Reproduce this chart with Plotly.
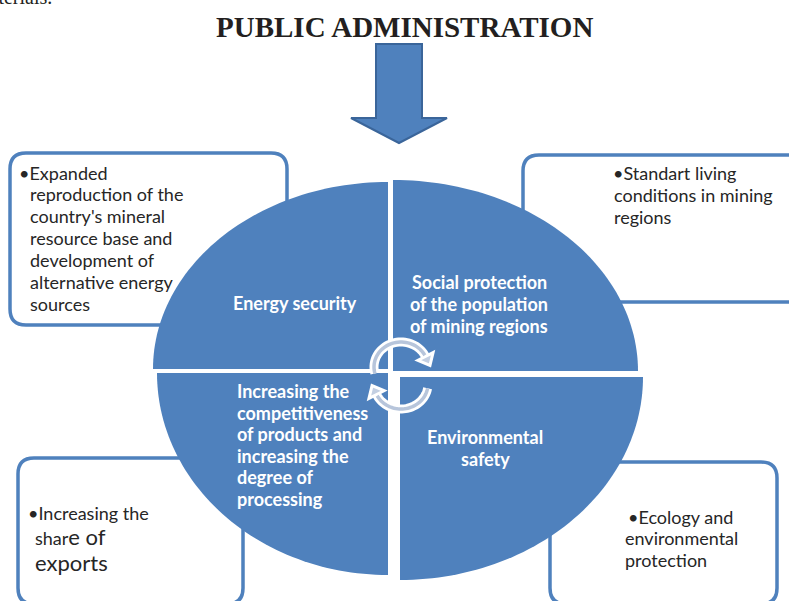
import numpy as np
import plotly.graph_objects as go

W, H = 789, 601
BLUE = "#4F81BD"
BLUE_DARK = "#3A659A"
TXT = "#262626"
BODY_FONT = "Lato"

# ---- content ----
title_text = "PUBLIC ADMINISTRATION"
fragment_text = "materials."

energy_label = ["Energy security"]
social_label = ["Social protection", "of the population", "of mining regions"]
compet_label = ["Increasing the", "competitiveness", "of products and",
                "increasing the", "degree of", "processing"]
env_label = ["Environmental", "safety"]

box_tl_lines = ["•Expanded", "reproduction of the", "country's mineral",
                "resource base and", "development of", "alternative energy", "sources"]
box_tr_lines = ["•Standart living", "conditions in mining", "regions"]
box_bl_lines = ["•Increasing the",
                "shar<span style='font-size:22px'>e of</span>",
                "<span style='font-size:22px'>exports</span>"]
box_br_lines = ["•Ecology and", "environmental", "protection"]

# ---- geometry helpers ----
def rrect(x0, y0, x1, y1, r):
    return (f"M{x0+r},{y0} L{x1-r},{y0} Q{x1},{y0} {x1},{y0+r} "
            f"L{x1},{y1-r} Q{x1},{y1} {x1-r},{y1} L{x0+r},{y1} "
            f"Q{x0},{y1} {x0},{y1-r} L{x0},{y0+r} Q{x0},{y0} {x0+r},{y0} Z")

def quarter(cx, cy, rx, ry, a0, a1, n=60):
    t = np.radians(np.linspace(a0, a1, n))
    xs = cx + rx * np.cos(t)
    ys = cy - ry * np.sin(t)
    pts = " ".join(f"L{x:.2f},{y:.2f}" for x, y in zip(xs, ys))
    return f"M{cx},{cy} {pts} Z"

def arc(cx, cy, rx, ry, a0, a1, n=40):
    t = np.radians(np.linspace(a0, a1, n))
    xs = cx + rx * np.cos(t)
    ys = cy - ry * np.sin(t)
    return "M" + " L".join(f"{x:.2f},{y:.2f}" for x, y in zip(xs, ys))

def arrowhead(cx, cy, rx, ry, a, half=8.5, length=10):
    t = np.radians(a)
    px, py = cx + rx * np.cos(t), cy - ry * np.sin(t)
    dx, dy = rx * np.sin(t), ry * np.cos(t)
    nrm = np.hypot(dx, dy)
    dx, dy = dx / nrm, dy / nrm
    nx, ny = -dy, dx
    p1 = (px + nx * half, py + ny * half)
    p2 = (px - nx * half, py - ny * half)
    tip = (px + dx * length, py + dy * length)
    return f"M{p1[0]:.2f},{p1[1]:.2f} L{tip[0]:.2f},{tip[1]:.2f} L{p2[0]:.2f},{p2[1]:.2f} Z"

shapes = []
# text boxes (below)
for (x0, y0, x1, y1) in [(10, 153, 287, 325), (523, 155, 806, 302),
                         (18, 458, 243, 604), (550, 462, 777, 604)]:
    shapes.append(dict(type="path", path=rrect(x0, y0, x1, y1, 16), layer="below",
                       line=dict(color=BLUE, width=3.5), fillcolor="white"))

# quadrants (above)
for (cx, cy, rx, ry, a0, a1) in [(388, 369, 235, 187, 90, 180),
                                 (393, 371, 245, 191, 0, 90),
                                 (388, 373, 231, 202, 180, 270),
                                 (400, 377, 243, 203, 270, 360)]:
    shapes.append(dict(type="path", path=quarter(cx, cy, rx, ry, a0, a1), layer="above",
                       line=dict(width=0), fillcolor=BLUE))

# big arrow
arrow_path = "M376,44 L422,44 L422,118 L447,118 L399,143 L351,118 L376,118 Z"
shapes.append(dict(type="path", path=arrow_path, layer="above",
                   line=dict(color=BLUE_DARK, width=2), fillcolor=BLUE))

# circular arrows
arcs = [(401, 367, 27, 25, 195, 25), (401, 384, 27, 25, -10, -155)]
for (cx, cy, rx, ry, a0, a1) in arcs:
    shapes.append(dict(type="path", path=arc(cx, cy, rx, ry, a0, a1), layer="above",
                       line=dict(color="white", width=9), fillcolor="rgba(0,0,0,0)"))
for (cx, cy, rx, ry, a0, a1) in arcs:
    shapes.append(dict(type="path", path=arrowhead(cx, cy, rx, ry, a1), layer="above",
                       line=dict(color="white", width=3), fillcolor="#C3CFE2"))
for (cx, cy, rx, ry, a0, a1) in arcs:
    shapes.append(dict(type="path", path=arc(cx, cy, rx, ry, a0, a1 + 3),
                       layer="above",
                       line=dict(color="#B7C5DB", width=3.5), fillcolor="rgba(0,0,0,0)"))

fig = go.Figure()

def text_block(xs, ys, lines, size=18):
    fig.add_trace(go.Scatter(x=xs, y=ys, text=lines, mode="text",
                             textposition="middle right", hoverinfo="skip",
                             cliponaxis=False,
                             textfont=dict(family=BODY_FONT, size=size, color=TXT)))

tl_y = [175 + i * 21.9 for i in range(len(box_tl_lines))]
text_block([19] + [30] * (len(box_tl_lines) - 1), tl_y, box_tl_lines)
text_block([613, 614, 614], [175, 197, 219], box_tr_lines)
text_block([28, 35, 35], [515, 540, 566], box_bl_lines)
text_block([628, 625, 625], [519, 540, 562], box_br_lines)

annotations = [
    dict(x=404, y=27, text=f"<b>{title_text}</b>", showarrow=False,
         xanchor="center", yanchor="middle",
         font=dict(family="Liberation Serif", size=29, color="#231F20")),
    dict(x=54, xref="x", y=1 + 3 / H, yref="paper", text=fragment_text, showarrow=False,
         xanchor="right", yanchor="middle",
         font=dict(family="Liberation Serif", size=20, color="#231F20")),
]

def label(lines, x, y0, dy, anchor):
    for i, ln in enumerate(lines):
        annotations.append(dict(x=x, y=y0 + i * dy, text=f"<b>{ln}</b>", showarrow=False,
                                xanchor=anchor, yanchor="middle",
                                font=dict(family=BODY_FONT, size=18, color="white")))

label(energy_label, 295, 303, 22, "center")
label(social_label, 479, 282, 22, "center")
label(compet_label, 235, 391, 21.5, "left")
label(env_label, 485, 437, 22, "center")

fig.update_layout(
    width=W, height=H, margin=dict(l=0, r=0, t=0, b=0),
    paper_bgcolor="white", plot_bgcolor="white", showlegend=False,
    xaxis=dict(range=[0, W], visible=False, fixedrange=True),
    yaxis=dict(range=[H, 0], visible=False, fixedrange=True),
    shapes=shapes, annotations=annotations,
)

fig.write_html("out.html", config={"displayModeBar": False},
               post_script="document.body.style.margin='0';document.body.style.overflow='hidden';")
